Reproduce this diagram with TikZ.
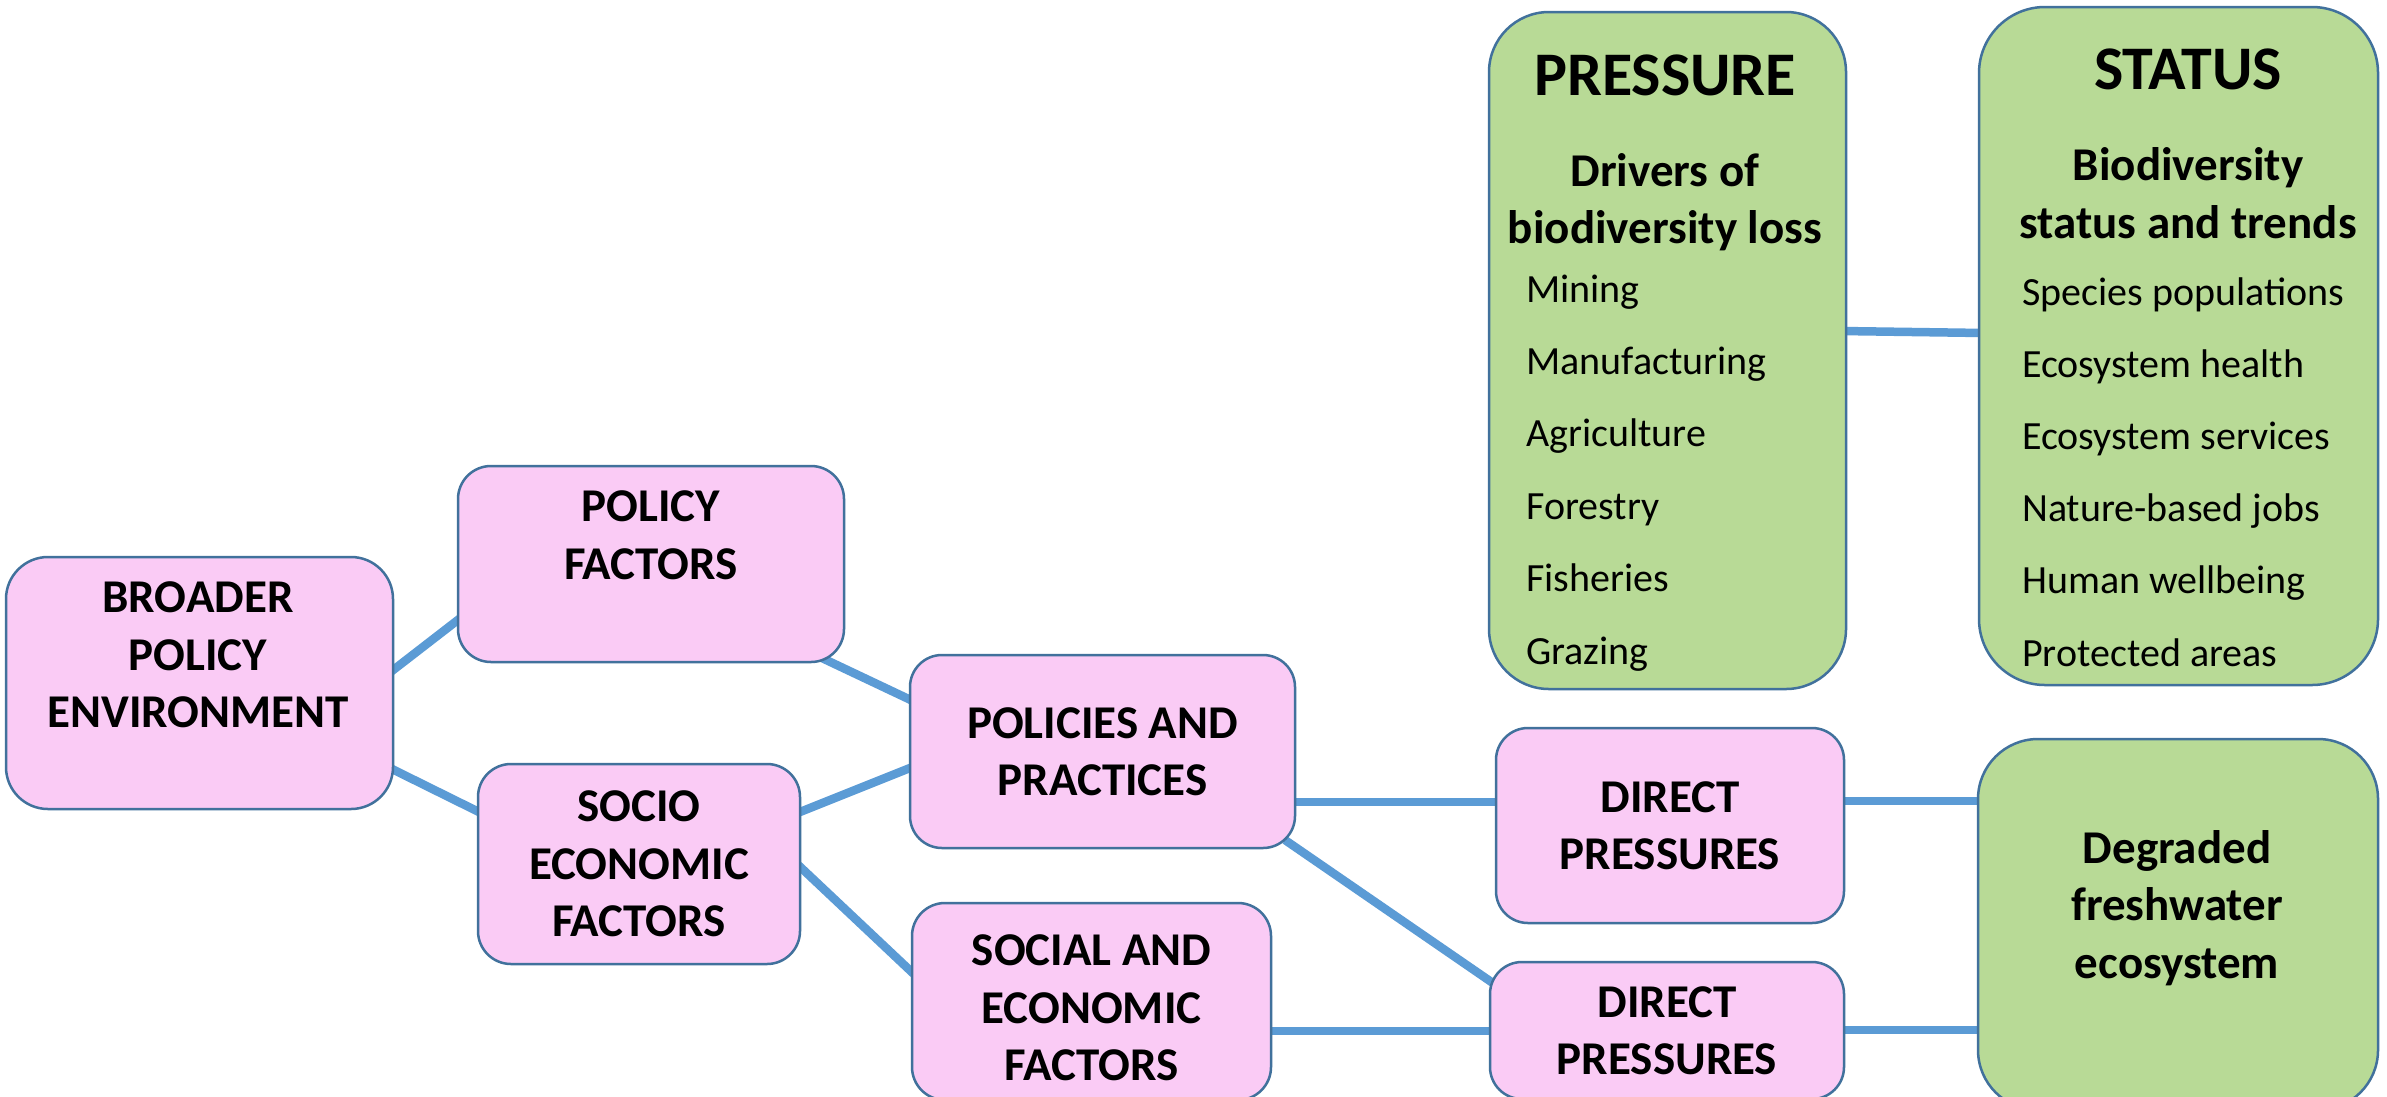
\documentclass[tikz,border=0pt]{standalone}
\usepackage{fontspec}
\setmainfont{Carlito}
\usetikzlibrary{calc,backgrounds}
\definecolor{pinkc}{RGB}{250,203,245}
\definecolor{greenc}{RGB}{184,218,150}
\definecolor{bordc}{RGB}{65,113,156}
\definecolor{linec}{RGB}{91,155,213}
\tikzset{
  box/.style={draw=bordc, line width=2.5pt, inner sep=0pt, outer sep=0pt, align=center,
    font=\fontsize{47}{57.5}\selectfont\bfseries},
  pinkbox/.style={box, fill=pinkc},
  greenbox/.style={box, fill=greenc},
  boxtxt/.style={font=\fontsize{47}{57.5}\selectfont\bfseries, align=center, inner sep=0pt},
  titletxt/.style={font=\fontsize{62}{74}\selectfont\bfseries, inner sep=0pt},
  itemtxt/.style={font=\fontsize{40}{48}\selectfont, inner sep=0pt, anchor=base west},
  conn/.style={draw=linec, line width=8.5pt},
}
\begin{document}
\begin{tikzpicture}[x=1pt,y=-1pt]
\useasboundingbox (0,0) rectangle (2387,1096);
% boxes
\node[pinkbox, minimum width=387, minimum height=252, rounded corners=42] (broader) at (199.5,683) {};
\node[boxtxt] (broadert) at (198,655) {BROADER\\POLICY\\ENVIRONMENT};
\node[pinkbox, minimum width=386, minimum height=196, rounded corners=33] (polfac) at (651,564) {};
\node[boxtxt] (polfact) at (651,535) {POLICY\\FACTORS};
\node[pinkbox, minimum width=322, minimum height=200, rounded corners=33] (socio) at (639,864) {SOCIO\\ECONOMIC\\FACTORS};
\node[pinkbox, minimum width=385, minimum height=193, rounded corners=32] (policies) at (1102.5,751.5) {POLICIES AND\\PRACTICES};
\node[pinkbox, minimum width=359, minimum height=197, rounded corners=33] (social) at (1091.5,1001.5) {};
\node[boxtxt] (socialt) at (1091.5,1008) {SOCIAL AND\\ECONOMIC\\FACTORS};
\node[pinkbox, minimum width=348, minimum height=195, rounded corners=32] (directa) at (1670,825.5) {DIRECT\\PRESSURES};
\node[pinkbox, minimum width=354, minimum height=137, rounded corners=32] (directb) at (1667,1030.5) {DIRECT\\PRESSURES};
\node[greenbox, minimum width=400, minimum height=371, rounded corners=60] (degraded) at (2178,924.5) {};
\node[boxtxt] (degradedt) at (2177,908) {Degraded\\freshwater\\ecosystem};
\node[greenbox, minimum width=357, minimum height=677, rounded corners=60] (pressure) at (1667.5,350.5) {};
\node[titletxt] (pressuret) at (1665,75) {PRESSURE};
\node[boxtxt] (driverst) at (1665,202) {Drivers of\\biodiversity loss};
\node[greenbox, minimum width=399, minimum height=678, rounded corners=66] (status) at (2178.5,346) {};
\node[titletxt] (statust) at (2188,69) {STATUS};
\node[boxtxt] (biodivt) at (2188,193) {Biodiversity\\status and trends};
\foreach \t [count=\i from 0] in {Mining,Manufacturing,Agriculture,Forestry,Fisheries,Grazing}
  \node[itemtxt] (pitem\i) at (1526,{302+72.4*\i}) {\t};
\foreach \t [count=\i from 0] in {Species populations,Ecosystem health,Ecosystem services,Nature-based jobs,Human wellbeing,Protected areas}
  \node[itemtxt] (sitem\i) at (2022,{305+72.2*\i}) {\t};
% connectors
\begin{scope}[on background layer]
\fill[white] (0,0) rectangle (2387,1096);
\draw[conn] ($(broader.east)+(-5,-9)$) -- ($(polfac.west)+(5,52)$);
\draw[conn] ($(broader.east)+(-5,84)$) -- ($(socio.west)+(5,-50)$);
\draw[conn] ($(polfac.south east)+(-22,-4)$) -- ($(policies.west)+(5,-49.5)$);
\draw[conn] ($(socio.east)+(-5,-50)$) -- ($(policies.west)+(5,14.5)$);
\draw[conn] ($(socio.east)+(-5,-2)$) -- ($(social.west)+(5,-24.5)$);
\draw[conn] ($(policies.east)+(-5,50.5)$) -- ($(directa.west)+(5,-23.5)$);
\draw[conn] ($(policies.south east)+(-10,-8)$) -- ($(directb.west)+(5,-46)$);
\draw[conn] ($(social.east)+(-5,29.5)$) -- ($(directb.west)+(5,0.5)$);
\draw[conn] ($(directa.east)+(-5,-24.5)$) -- ($(degraded.west)+(5,-123.5)$);
\draw[conn] ($(directb.east)+(-5,-0.5)$) -- ($(degraded.west)+(5,105.5)$);
\draw[conn] ($(pressure.east)+(-5,-19.5)$) -- ($(status.west)+(5,-13)$);
\end{scope}
\end{tikzpicture}
\end{document}
